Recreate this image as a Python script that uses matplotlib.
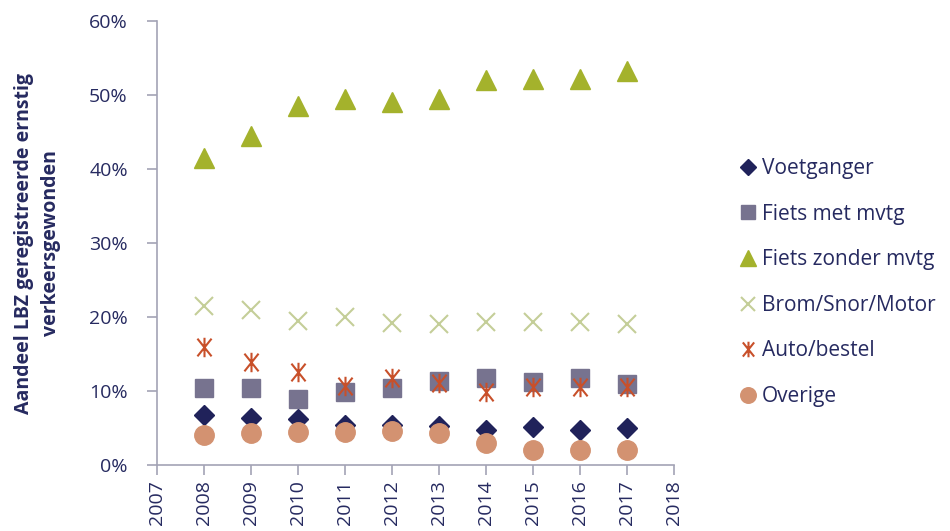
import matplotlib.pyplot as plt
from matplotlib.path import Path
from matplotlib.ticker import FuncFormatter, MultipleLocator

plt.rcParams['font.family'] = ['Open Sans', 'DejaVu Sans']

jaren = [2008, 2009, 2010, 2011, 2012, 2013, 2014, 2015, 2016, 2017]
voetganger = [6.8, 6.3, 6.2, 5.4, 5.4, 5.3, 4.7, 5.2, 4.7, 5.0]
fiets_met = [10.4, 10.4, 8.9, 9.9, 10.4, 11.4, 11.7, 11.2, 11.7, 10.9]
fiets_zonder = [41.5, 44.5, 48.5, 49.4, 49.0, 49.4, 52.0, 52.2, 52.2, 53.3]
brom = [21.5, 20.9, 19.5, 20.0, 19.2, 19.0, 19.3, 19.3, 19.3, 19.1]
auto = [15.9, 13.9, 12.6, 10.7, 11.8, 11.1, 9.8, 10.6, 10.6, 10.6]
overige = [4.1, 4.3, 4.5, 4.5, 4.6, 4.3, 3.0, 2.0, 2.0, 2.0]

tekst = '#262A60'
as_kleur = '#A3A3B5'

# asterisk: X with a vertical bar through it
ster = Path([(-0.8, -1), (0.8, 1), (-0.8, 1), (0.8, -1), (0, -1.1), (0, 1.1)],
            [Path.MOVETO, Path.LINETO, Path.MOVETO, Path.LINETO, Path.MOVETO, Path.LINETO])

reeksen = [
    ('Voetganger', voetganger, dict(marker='D', ms=10, color='#20225A')),
    ('Fiets met mvtg', fiets_met, dict(marker='s', ms=13, color='#77738F')),
    ('Fiets zonder mvtg', fiets_zonder, dict(marker='^', ms=15, color='#A4B22C')),
    ('Brom/Snor/Motor', brom, dict(marker='x', ms=13, mew=1.5, color='#C4CE98')),
    ('Auto/bestel', auto, dict(marker=ster, ms=14, mew=1.5, color='#C8502A')),
    ('Overige', overige, dict(marker='o', ms=14, color='#D39271')),
]

fig = plt.figure(figsize=(9.5, 5.31), dpi=100)
ax = fig.add_axes([157 / 950, 1 - 465 / 531, 517 / 950, 444 / 531])

for naam, waarden, stijl in reeksen:
    ax.plot(jaren, waarden, linestyle='none', label=naam, mec=stijl['color'], **stijl)

ax.set_xlim(2007, 2018)
ax.set_ylim(0, 60)
ax.xaxis.set_major_locator(MultipleLocator(1))
ax.yaxis.set_major_locator(MultipleLocator(10))
ax.yaxis.set_major_formatter(FuncFormatter(lambda v, p: f'{v:.0f}%'))

for kant in ['top', 'right']:
    ax.spines[kant].set_visible(False)
for kant in ['left', 'bottom']:
    ax.spines[kant].set_color(as_kleur)
    ax.spines[kant].set_linewidth(1.2)
ax.tick_params(axis='both', colors=as_kleur, length=7, width=1.2, labelcolor=tekst, labelsize=14)
ax.tick_params(axis='y', pad=14)
ax.tick_params(axis='x', labelrotation=90, pad=4)

ax.set_ylabel('Aandeel LBZ geregistreerde ernstig\nverkeersgewonden', fontsize=14,
              fontweight='bold', color=tekst, labelpad=20, linespacing=1.5)

leg = ax.legend(loc='upper left', bbox_to_anchor=(1.112, 0.71),
                frameon=False, fontsize=15, labelcolor=tekst, handlelength=0.7,
                handletextpad=0.35, labelspacing=1.18, borderaxespad=0, markerscale=0.8)

fig.savefig('out.png', dpi=100)
